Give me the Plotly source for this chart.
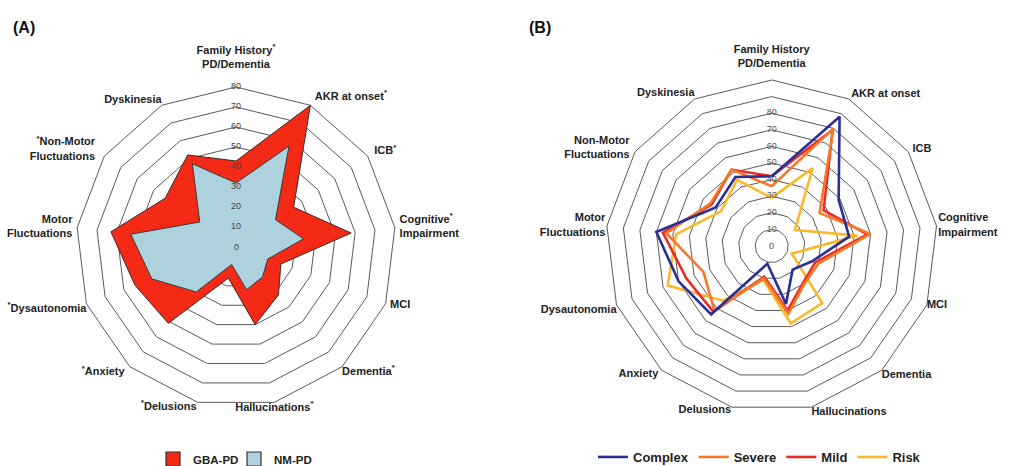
import plotly.graph_objects as go

# Clinical features, clockwise from the top
categories = [
    "Family History PD/Dementia", "AKR at onset", "ICB", "Cognitive Impairment",
    "MCI", "Dementia", "Hallucinations", "Delusions", "Anxiety", "Dysautonomia",
    "Motor Fluctuations", "Non-Motor Fluctuations", "Dyskinesia",
]

# Axis labels; * marks a significant GBA-PD vs NM-PD difference
labels_a = [
    "Family History<sup>*</sup><br>PD/Dementia", "AKR at onset<sup>*</sup>", "ICB<sup>*</sup>",
    "Cognitive<sup>*</sup><br>Impairment", "MCI", "Dementia<sup>*</sup>",
    "Hallucinations<sup>*</sup>", "<sup>*</sup>Delusions", "<sup>*</sup>Anxiety",
    "<sup>*</sup>Dysautonomia", "Motor<br>Fluctuations", "<sup>*</sup>Non-Motor<br>Fluctuations",
    "Dyskinesia",
]
labels_b = [
    "Family History<br>PD/Dementia", "AKR at onset", "ICB", "Cognitive<br>Impairment",
    "MCI", "Dementia", "Hallucinations", "Delusions", "Anxiety", "Dysautonomia",
    "Motor<br>Fluctuations", "Non-Motor<br>Fluctuations", "Dyskinesia",
]

# (A) frequency (%) by group
gba_pd = [43, 80, 35, 58, 24, 32, 40, 16, 51, 54, 63, 43, 52]
nm_pd = [32, 57, 24, 34, 17, 20, 22, 9, 30, 45, 53, 22, 47]

# (B) frequency (%) by GBA variant severity
complex_v = [42, 88, 49, 47, 26, 19, 36, 11, 55, 60, 70, 41, 47]
severe_v = [36, 80, 35, 60, 30, 30, 42, 20, 52, 44, 64, 45, 52]
mild_v = [42, 79, 38, 58, 28, 29, 40, 19, 53, 55, 66, 44, 52]
risk_v = [29, 53, 17, 52, 13, 46, 48, 21, 44, 67, 58, 37, 45]

radial_ticks = [0, 10, 20, 30, 40, 50, 60, 70, 80]

FONT = "Liberation Sans, Arial, sans-serif"
W, H = 1012, 466
EXT = 1.12  # radial headroom beyond the outer ring, leaves room for the labels

# Panel geometry: centre (px from top-left) and pixel radius of the outer ring
GEOM_A = dict(cx=236, cy=247, radius=160, rmax=80)
GEOM_B = dict(cx=771.7, cy=246, radius=166, rmax=100)

# Where each category label sits: radius (relative to the outer ring) and text anchor
label_pos_a = [
    (1.1, "top center"), (1.06, "middle right"), (1.05, "middle right"),
    (1.03, "middle right"), (1.03, "middle right"), (1.0, "bottom right"),
    (1.0, "bottom center"), (1.03, "middle left"), (1.05, "middle left"),
    (1.0, "bottom left"), (1.03, "middle left"), (1.07, "middle left"),
    (1.0, "top left"),
]
label_pos_b = [
    (1.06, "top center"), (1.03, "middle right"), (1.03, "middle right"),
    (1.01, "middle right"), (1.0, "middle right"), (1.0, "bottom right"),
    (1.0, "bottom right"), (1.02, "middle left"), (1.03, "middle left"),
    (1.0, "bottom left"), (1.01, "middle left"), (1.04, "middle left"),
    (1.0, "top left"),
]


def closed(values):
    return list(values) + [values[0]]


theta_closed = closed(categories)

fig = go.Figure()

# ---- Panel A: filled areas ----
fig.add_trace(go.Scatterpolar(
    r=closed(gba_pd), theta=theta_closed, fill="toself", name="GBA-PD",
    fillcolor="#f42a17", line=dict(color="#3a2a28", width=1), mode="lines",
    subplot="polar", showlegend=False,
))
fig.add_trace(go.Scatterpolar(
    r=closed(nm_pd), theta=theta_closed, fill="toself", name="NM-PD",
    fillcolor="#aed2dd", line=dict(color="#3a3a3a", width=1), mode="lines",
    subplot="polar", showlegend=False,
))
# square swatches for the legend of panel A
for name, color in [("GBA-PD", "#f42a17"), ("NM-PD", "#aed2dd")]:
    fig.add_trace(go.Scatterpolar(
        r=[None], theta=[None], mode="markers", name=name, subplot="polar",
        marker=dict(symbol="square", size=14, color=color, line=dict(color="#333", width=1.2)),
        legend="legend",
    ))

zero_labels = []


def add_labels(subplot, geom, labels, positions, tick_color):
    rmax = geom["rmax"]
    # radial value labels along the top spoke (the origin one goes at the centre)
    outer_ticks = [v for v in radial_ticks if v > 0]
    fig.add_trace(go.Scatterpolar(
        r=outer_ticks, theta=[categories[0]] * len(outer_ticks), mode="text",
        text=[str(v) for v in outer_ticks], cliponaxis=False,
        textfont=dict(family=FONT, size=9, color=tick_color),
        subplot=subplot, showlegend=False, hoverinfo="skip",
    ))
    zero_labels.append(dict(
        text=str(radial_ticks[0]), x=geom["cx"] / W, y=1 - geom["cy"] / H,
        xref="paper", yref="paper", xanchor="center", yanchor="middle",
        showarrow=False, font=dict(family=FONT, size=9, color=tick_color),
    ))
    # category labels around the outer ring
    for cat, lab, (k, pos) in zip(categories, labels, positions):
        fig.add_trace(go.Scatterpolar(
            r=[rmax * k], theta=[cat], mode="text", text=[lab], textposition=pos,
            cliponaxis=False,
            textfont=dict(family=FONT, size=11, color="#222", weight="bold"),
            subplot=subplot, showlegend=False, hoverinfo="skip",
        ))


add_labels("polar", GEOM_A, labels_a, label_pos_a, "#444")

# ---- Panel B: outlines ----
series_b = [
    ("Complex", complex_v, "#2a2f96"),
    ("Severe", severe_v, "#f6782a"),
    ("Mild", mild_v, "#ec2c24"),
    ("Risk", risk_v, "#fdb829"),
]
for name, vals, color in reversed(series_b):
    fig.add_trace(go.Scatterpolar(
        r=closed(vals), theta=theta_closed, mode="lines", name=name,
        line=dict(color=color, width=2.6), subplot="polar2", legend="legend2",
    ))

add_labels("polar2", GEOM_B, labels_b, label_pos_b, "#555")


def polar_cfg(geom):
    cx, cy, rmax = geom["cx"], geom["cy"], geom["rmax"]
    half = geom["radius"] * EXT
    return dict(
        domain=dict(x=[(cx - half) / W, (cx + half) / W],
                    y=[(H - cy - half) / H, (H - cy + half) / H]),
        bgcolor="rgba(0,0,0,0)",
        gridshape="linear",
        radialaxis=dict(
            range=[0, rmax * EXT], tickmode="array", tickvals=list(range(10, rmax + 1, 10)),
            showticklabels=False, showline=False, ticks="",
            gridcolor="#5a5a5a", gridwidth=1,
        ),
        angularaxis=dict(
            rotation=90, direction="clockwise", type="category",
            categoryorder="array", categoryarray=categories,
            showticklabels=False, ticks="",
            showgrid=False, showline=False,
        ),
    )


fig.update_layout(
    width=W, height=H,
    margin=dict(l=0, r=0, t=0, b=0, autoexpand=False),
    paper_bgcolor="white", plot_bgcolor="white",
    font=dict(family=FONT),
    polar=polar_cfg(GEOM_A),
    polar2=polar_cfg(GEOM_B),
    legend=dict(
        orientation="h", x=153 / W, y=7 / H, xanchor="left", yanchor="middle",
        entrywidth=36, entrywidthmode="pixels",
        font=dict(family=FONT, size=11.5, color="#222", weight="bold"),
        bgcolor="rgba(0,0,0,0)",
    ),
    legend2=dict(
        orientation="h", x=593 / W, y=9 / H, xanchor="left", yanchor="middle",
        traceorder="reversed",
        font=dict(family=FONT, size=13, color="#222", weight="bold"),
        bgcolor="rgba(0,0,0,0)",
    ),
    annotations=zero_labels + [
        dict(text="<b>(A)</b>", x=11 / W, y=1 - 28 / H, xref="paper", yref="paper",
             xanchor="left", yanchor="middle", showarrow=False,
             font=dict(family=FONT, size=16, color="#111")),
        dict(text="<b>(B)</b>", x=527 / W, y=1 - 28 / H, xref="paper", yref="paper",
             xanchor="left", yanchor="middle", showarrow=False,
             font=dict(family=FONT, size=16, color="#111")),
    ],
)

fig.write_html("out.html")
